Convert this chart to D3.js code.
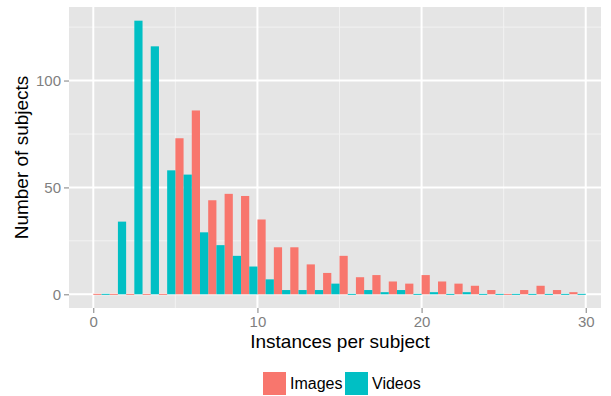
<!DOCTYPE html>
<html><head><meta charset="utf-8">
<script src="https://cdn.jsdelivr.net/npm/d3@7"></script>
<style>body{margin:0;background:#fff}svg{display:block}text{font-family:"Liberation Sans",Arial,Helvetica,sans-serif}</style>
</head><body><svg id="c" width="611" height="396"></svg>
<script>
const bins = d3.range(0, 30);
const images = [0,0,0,0,0,73,86,44,47,46,35,22,22,14,10,18,8,9,6,5,9,6,5,4,2,0,2,4,2,1];
const videos = [0,34,128,116,58,56,29,23,18,13,7,2,2,2,5,0,2,1,2,0,1,0,1,0,0,0,0,0,0,0];
const seriesNames = ["Images","Videos"];
const colors = ["#F8766D","#00BFC4"];
const xTicks = [0,10,20,30], xMinor = [5,15,25];
const yTicks = [0,50,100], yMinor = [25,75,125];

const svg = d3.select("#c");
const L=69, R=601, T=7, B=308;
const x = d3.scaleLinear().domain([-1.48, 30.93]).range([L, R]);
const y = d3.scaleLinear().domain([-6.4, 134.4]).range([B, T]);

svg.append("rect").attr("x",L).attr("y",T).attr("width",R-L).attr("height",B-T).attr("fill","#E5E5E5");
const g = svg.append("g");
xMinor.forEach(v=>g.append("line").attr("x1",x(v)).attr("x2",x(v)).attr("y1",T).attr("y2",B).attr("stroke","#F2F2F2").attr("stroke-width",1));
yMinor.forEach(v=>g.append("line").attr("y1",y(v)).attr("y2",y(v)).attr("x1",L).attr("x2",R).attr("stroke","#F2F2F2").attr("stroke-width",1));
xTicks.forEach(v=>g.append("line").attr("x1",x(v)).attr("x2",x(v)).attr("y1",T).attr("y2",B).attr("stroke","#fff").attr("stroke-width",2));
yTicks.forEach(v=>g.append("line").attr("y1",y(v)).attr("y2",y(v)).attr("x1",L).attr("x2",R).attr("stroke","#fff").attr("stroke-width",2));

const series = [images, videos];
series.forEach((vals, si)=>{
  svg.append("g").selectAll("rect").data(bins).join("rect")
    .attr("x", d=>x(d + si*0.5))
    .attr("width", d=>x(d+0.5)-x(d))
    .attr("y", d=> vals[d]>0 ? y(vals[d]) : y(0)-0.5)
    .attr("height", d=> vals[d]>0 ? y(0)-y(vals[d]) : 1)
    .attr("fill", colors[si]);
});

// axes
const xa = svg.append("g").attr("transform",`translate(0,${B})`).call(d3.axisBottom(x).tickValues(xTicks).tickSize(5).tickPadding(3).tickFormat(d3.format("d")));
const ya = svg.append("g").attr("transform",`translate(${L},0)`).call(d3.axisLeft(y).tickValues(yTicks).tickSize(5).tickPadding(3).tickFormat(d3.format("d")));
[xa,ya].forEach(a=>{a.select(".domain").remove();a.selectAll("line").attr("stroke","#7F7F7F").attr("stroke-width",1);
  a.selectAll("text").attr("fill","#7F7F7F").style("font-size","15px").style("font-family",'"Liberation Sans",Arial,sans-serif');});

svg.append("text").attr("x",(L+R)/2+5).attr("y",348).attr("text-anchor","middle").style("font-size","19px").attr("fill","#000").text("Instances per subject");
svg.append("text").attr("transform",`translate(28,${(T+B)/2}) rotate(-90)`).attr("text-anchor","middle").style("font-size","19px").attr("fill","#000").text("Number of subjects");

// legend
const lx=[263,345];
seriesNames.forEach((n,i)=>{
  svg.append("rect").attr("x",lx[i]).attr("y",372).attr("width",23).attr("height",23).attr("fill",colors[i]);
  svg.append("text").attr("x",lx[i]+27).attr("y",389).style("font-size","16px").attr("fill","#000").text(n);
});
</script></body></html>
